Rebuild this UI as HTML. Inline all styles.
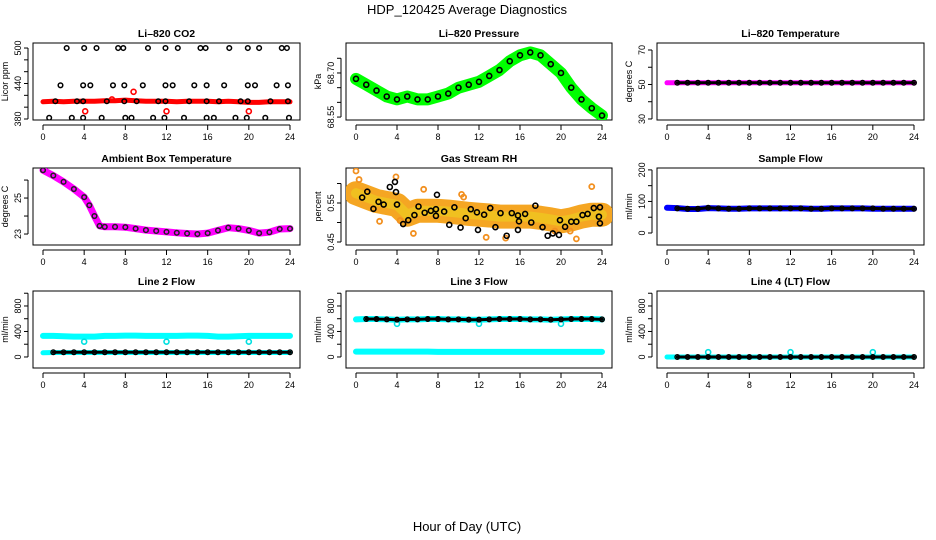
<!DOCTYPE html>
<html><head><meta charset="utf-8">
<style>
html,body{margin:0;padding:0;background:#fff;}
svg{display:block;font-family:"Liberation Sans",sans-serif;}
</style></head>
<body>
<svg id="chart" width="936" height="540" viewBox="0 0 936 540" xmlns="http://www.w3.org/2000/svg">
<text x="467" y="14" text-anchor="middle" font-size="13">HDP_120425  Average Diagnostics</text>
<text x="467" y="531" text-anchor="middle" font-size="13">Hour of Day (UTC)</text>
</svg>
<script>
const xTicks = [0,4,8,12,16,20,24];
const hours = [0,1,2,3,4,5,6,7,8,9,10,11,12,13,14,15,16,17,18,19,20,21,22,23,24];

const co2Red = [409,410,409,410,410,410,411,411,412,411,410,410,410,409,410,410,410,409,410,409,408,408,409,409,409];
const co2BlackT = [2.3,4.0,5.2,7.3,7.8,10.2,11.9,13.1,15.3,15.8,18.1,19.9,21.0,23.2,23.7,
 1.7,3.9,4.6,6.8,7.9,9.7,11.9,12.6,14.7,15.9,17.6,19.9,20.6,22.7,23.8,
 1.2,3.3,3.9,6.2,7.9,9.1,11.2,11.9,14.2,15.9,17.1,19.2,19.9,22.1,23.8,
 0.6,2.8,3.9,5.7,8.0,8.6,10.7,11.8,13.7,15.9,16.6,18.7,19.8,21.6,23.9];
const co2BlackV = [500,500,500,500,500,500,500,500,500,500,500,500,500,500,500,
 437,437,437,437,437,437,437,437,437,437,437,437,437,437,437,
 410,410,410,410,410,410,410,410,410,410,410,410,410,410,410,
 382,382,382,382,382,382,382,382,382,382,382,382,382,382,382];
const co2OutT = [4.1,6.7,8.8,12.0,20.0];
const co2OutV = [393,413,426,393,393];

const pressure = [68.68,68.66,68.64,68.62,68.61,68.62,68.61,68.61,68.62,68.63,68.65,68.66,68.67,68.69,68.71,68.74,68.76,68.77,68.76,68.73,68.70,68.65,68.61,68.58,68.555];

const liTemp = [51,51,51,51,51,51,51,51,51,51,51,51,51,51,51,51,51,51,51,51,51,51,51,51,51];

const ambT = [0,1,2,3,4,4.5,5,5.5,6,7,8,9,10,11,12,13,14,15,16,17,18,19,20,21,22,23,24];
const ambV = [26.55,26.25,25.9,25.5,25.05,24.6,24.0,23.45,23.4,23.4,23.38,23.3,23.22,23.17,23.12,23.07,23.03,23.0,23.05,23.2,23.35,23.3,23.2,23.05,23.1,23.28,23.3];

const rhTrendT = [0,1,2,3,4,5,6,7,8,9,10,11,12,13,14,15,16,17,18,19,20,21,22,23,24];
const rhTrend = [0.575,0.565,0.555,0.55,0.545,0.52,0.53,0.53,0.53,0.528,0.525,0.522,0.52,0.518,0.515,0.515,0.515,0.515,0.512,0.508,0.503,0.508,0.515,0.52,0.52];
const rhBlackT = [0.6,1.1,1.7,2.2,2.7,3.3,3.8,3.9,4.0,4.6,5.1,5.7,6.1,6.7,7.3,7.8,7.8,7.9,8.6,9.1,9.6,10.2,10.7,11.2,11.8,11.9,12.5,13.1,13.6,14.1,14.7,15.2,15.8,15.8,15.9,16.5,17.1,17.5,18.2,18.7,19.2,19.8,19.9,20.4,21.0,21.5,22.1,22.6,23.2,23.8,23.7,23.8];
const rhBlackV = [0.564,0.579,0.535,0.553,0.546,0.591,0.604,0.578,0.546,0.496,0.506,0.519,0.541,0.525,0.530,0.534,0.517,0.571,0.528,0.494,0.539,0.487,0.511,0.534,0.526,0.481,0.520,0.537,0.488,0.524,0.466,0.524,0.518,0.481,0.503,0.522,0.500,0.543,0.488,0.466,0.472,0.468,0.506,0.489,0.502,0.502,0.519,0.522,0.537,0.539,0.515,0.498];
const rhOrangeT = [0.0,0.3,3.9,2.3,5.6,6.6,10.3,10.5,14.6,12.7,21.5,23.0,19.4,20.9,4.3];
const rhOrangeV = [0.632,0.610,0.617,0.503,0.472,0.585,0.572,0.565,0.460,0.462,0.458,0.592,0.478,0.478,0.505];

const sampleBlue = [80,79,76,76,79,78,77,77,78,78,78,78,78,78,77,77,78,78,78,78,77,77,77,77,77];
const sampleBlack = [78,78,77,77,80,78,77,77,78,78,78,78,78,78,77,77,78,78,78,78,78,77,77,77,77];

const line2Cyan = [330,330,325,320,320,320,330,330,335,335,330,330,330,330,335,335,330,320,320,325,330,330,330,330,330];
const line2Black = [75,75,75,75,75,75,75,75,75,75,75,75,75,75,75,75,75,75,75,75,75,75,75,75,75];
const line2Low = [65,70,70,70,70,70,70,70,70,70,70,70,70,70,70,70,70,70,70,70,70,70,70,70,70];
const dipT = [4,12,20];
const line2Dip = [240,240,240];

const line3Black = [590,595,595,590,585,590,590,595,595,590,590,585,585,590,595,595,595,590,590,585,590,595,595,595,590];
const line3Low = [85,85,85,85,85,85,85,85,80,80,80,80,80,80,80,80,80,80,80,80,80,80,80,80,80];
const line3Dip = [520,520,520];

const line4Black = [0,0,0,0,0,0,0,0,0,0,0,0,0,0,0,0,0,0,0,0,0,0,0,0,0];
const line4Dip = [75,75,75];

const NS = "http://www.w3.org/2000/svg";
const svg = document.getElementById('chart');
function mk(tag, attrs, parent){
  const e = document.createElementNS(NS, tag);
  for (const k in attrs) e.setAttribute(k, attrs[k]);
  (parent||svg).appendChild(e);
  return e;
}

function makePanel(p){
  const g = mk('g', {});
  
  
  const xs = t => p.x0 + 10 + (t/24)*(p.x1 - p.x0 - 20);
  const ys = v => p.y1 - (v - p.dmin)/(p.dmax - p.dmin)*(p.y1 - p.y0);
  const frame = mk('rect', {x:p.x0, y:p.y0, width:p.x1-p.x0, height:p.y1-p.y0, fill:'none', stroke:'#000', 'stroke-width':1}, g);
  
  
  const title = mk('text', {x:(p.x0+p.x1)/2, y:p.y0-6, 'text-anchor':'middle', 'font-size':10.5, 'font-weight':'bold'}, g);
  title.textContent = p.title;
  
  
  const yt = mk('text', {transform:`translate(${p.x0-25},${(p.y0+p.y1)/2}) rotate(-90)`, 'text-anchor':'middle', 'font-size':9}, g);
  yt.textContent = p.ylab;
  
  
  const xa = mk('g', {}, g);
  
  
  mk('line', {x1:xs(0), x2:xs(24), y1:p.y1+5, y2:p.y1+5, stroke:'#000'}, xa);
  xTicks.forEach(t => {
    mk('line', {x1:xs(t), x2:xs(t), y1:p.y1+5, y2:p.y1+10, stroke:'#000'}, xa);
    const l = mk('text', {x:xs(t), y:p.y1+20, 'text-anchor':'middle', 'font-size':9}, xa);
    l.textContent = t;
    
    
  });
  const ya = mk('g', {}, g);
  
  
  mk('line', {x1:p.x0-5, x2:p.x0-5, y1:ys(p.yticks[0]), y2:ys(p.yticks[p.yticks.length-1]), stroke:'#000'}, ya);
  p.yticks.forEach(v => {
    mk('line', {x1:p.x0-9, x2:p.x0-5, y1:ys(v), y2:ys(v), stroke:'#000'}, ya);
  });
  p.ylabels.forEach((v,i) => {
    const l = mk('text', {transform:`translate(${p.x0-12},${ys(v)}) rotate(-90)`, 'text-anchor':'middle', 'font-size':9}, ya);
    l.textContent = p.ylabelText[i];
    
    
  });
  const clip = 'clip-' + p.name;
  const cp = mk('clipPath', {id:clip}, g);
  mk('rect', {x:p.x0, y:p.y0, width:p.x1-p.x0, height:p.y1-p.y0}, cp);
  const plot = mk('g', {'clip-path':`url(#${clip})`}, g);
  return {g:plot, xs, ys};
}
function band(P, T, V, color, w, name){
  const pts = T.map((t,i) => P.xs(t).toFixed(1)+','+P.ys(V[i]).toFixed(1)).join(' ');
  const e = mk('polyline', {points:pts, fill:'none', stroke:color, 'stroke-width':w, 'stroke-linejoin':'round', 'stroke-linecap':'round'}, P.g);
  
  
  return e;
}
function dots(P, T, V, color, r, sw, name){
  const gg = mk('g', {}, P.g);
  
  
  T.forEach((t,i) => {
    mk('circle', {cx:P.xs(t), cy:P.ys(V[i]), r:r, fill:'none', stroke:color, 'stroke-width':sw}, gg);
  });
}

const C1=[33,300], C2=[346,612], C3=[657,924];
const R1=[43,120], R2=[168,245], R3=[291,368];
function panel(name,title,ylab,col,row,dmin,dmax,yticks,ylabels,ylabelText){
  return makePanel({name,title,ylab,x0:col[0],x1:col[1],y0:row[0],y1:row[1],dmin,dmax,yticks,ylabels,ylabelText});
}

// CO2
let P = panel('panel-co2','Li\u2013820 CO2','Licor ppm',C1,R1,378.3,508.5,[380,400,420,440,460,480,500],[380,440,500],['380','440','500']);
band(P, hours, co2Red, '#ff0000', 5, 'co2-red-series');
dots(P, co2OutT, co2OutV, '#ff0000', 2.5, 1.6, 'co2-red-outliers');
dots(P, co2BlackT, co2BlackV, '#000', 2.3, 1.5, 'co2-black-points');

// Pressure
P = panel('panel-pressure','Li\u2013820 Pressure','kPa',C2,R1,68.540,68.802,[68.55,68.60,68.65,68.70,68.75],[68.55,68.70],['68.55','68.70']);
band(P, hours, pressure, '#00ff00', 12, 'pressure-green-series');
dots(P, hours, pressure, '#000', 2.5, 1.6, 'pressure-black-points');

// Li temp
P = panel('panel-li-temp','Li\u2013820 Temperature','degrees C',C3,R1,29.4,74.06,[30,40,50,60,70],[30,50,70],['30','50','70']);
band(P, hours, liTemp, '#ff00ff', 5, 'li-temp-magenta-series');
band(P, hours.slice(1), liTemp.slice(1), '#000', 3, 'li-temp-black-series');
dots(P, hours.slice(1), liTemp.slice(1), '#000', 2.3, 1.4, 'li-temp-black-points');

// Ambient
P = panel('panel-ambient','Ambient Box Temperature','degrees C',C1,R2,22.39,26.67,[23,24,25,26],[23,25],['23','25']);
band(P, ambT, ambV, '#ff00ff', 7, 'ambient-magenta-series');
dots(P, ambT, ambV, '#222', 2.3, 1.5, 'ambient-black-points');

// RH
P = panel('panel-rh','Gas Stream RH','percent',C2,R2,0.4423,0.6397,[0.45,0.50,0.55,0.60],[0.45,0.55],['0.45','0.55']);
band(P, rhTrendT, rhTrend, '#f5a623', 24, 'rh-orange-band');
band(P, rhTrendT, rhTrend, '#f0c020', 10, 'rh-yellow-core');
dots(P, rhOrangeT, rhOrangeV, '#f29020', 2.5, 1.8, 'rh-orange-outliers');
dots(P, rhBlackT, rhBlackV, '#000', 2.5, 1.6, 'rh-black-points');

// Sample flow
P = panel('panel-sample-flow','Sample Flow','ml/min',C3,R2,-38,206,[0,50,100,150,200],[0,100,200],['0','100','200']);
band(P, hours, sampleBlue, '#0000ff', 6, 'sample-blue-series');
band(P, hours.slice(1), sampleBlack.slice(1), '#000', 3, 'sample-black-series');
dots(P, hours.slice(1), sampleBlack.slice(1), '#000', 2.3, 1.4, 'sample-black-points');

// Line 2
P = panel('panel-line2','Line 2 Flow','ml/min',C1,R3,-173,1035,[0,200,400,600,800,1000],[0,400,800],['0','400','800']);
band(P, hours, line2Cyan, '#00ffff', 6, 'line2-cyan-series');
dots(P, dipT, line2Dip, '#00e0e0', 2.5, 1.6, 'line2-cyan-dips');
band(P, hours, line2Low, '#00ffff', 5, 'line2-cyan-low-series');
band(P, hours.slice(1), line2Black.slice(1), '#000', 3, 'line2-black-series');
dots(P, hours.slice(1), line2Black.slice(1), '#000', 2.3, 1.4, 'line2-black-points');

// Line 3
P = panel('panel-line3','Line 3 Flow','ml/min',C2,R3,-173,1035,[0,200,400,600,800,1000],[0,400,800],['0','400','800']);
band(P, hours, line3Black, '#00ffff', 6, 'line3-cyan-series');
dots(P, dipT, line3Dip, '#00e0e0', 2.5, 1.6, 'line3-cyan-dips');
band(P, hours.slice(1), line3Black.slice(1), '#000', 3, 'line3-black-series');
dots(P, hours.slice(1), line3Black.slice(1), '#000', 2.3, 1.4, 'line3-black-points');
band(P, hours, line3Low, '#00ffff', 6, 'line3-cyan-low-series');

// Line 4
P = panel('panel-line4','Line 4 (LT) Flow','ml/min',C3,R3,-173,1035,[0,200,400,600,800,1000],[0,400,800],['0','400','800']);
band(P, hours, line4Black, '#00ffff', 5, 'line4-cyan-series');
dots(P, dipT, line4Dip, '#00e0e0', 2.5, 1.6, 'line4-cyan-dips');
band(P, hours.slice(1), line4Black.slice(1), '#000', 3, 'line4-black-series');
dots(P, hours.slice(1), line4Black.slice(1), '#000', 2.3, 1.4, 'line4-black-points');
</script>
</body></html>
